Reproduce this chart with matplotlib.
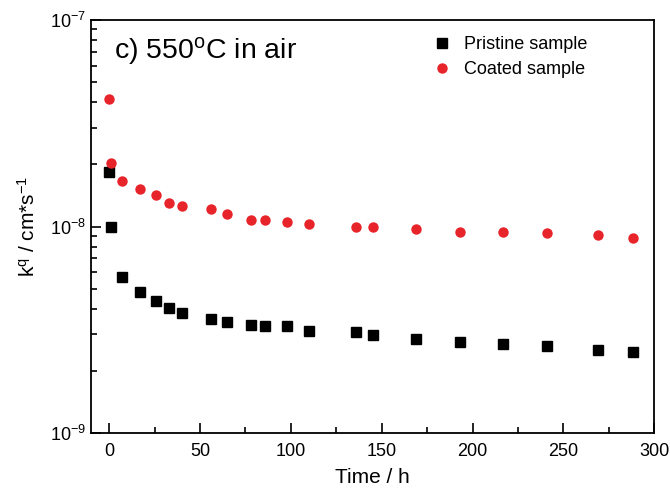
import matplotlib.pyplot as plt
from matplotlib.ticker import LogLocator, MultipleLocator, NullFormatter

plt.rcParams["font.family"] = ["Liberation Sans", "DejaVu Sans"]
plt.rcParams["mathtext.default"] = "regular"

# time in hours
time_h = [0, 1, 7, 17, 26, 33, 40, 56, 65, 78, 86, 98, 110, 136, 145,
          169, 193, 217, 241, 269, 288]
# k^q in cm/s
pristine = [1.84e-8, 1.00e-8, 5.67e-9, 4.82e-9, 4.35e-9, 4.05e-9, 3.81e-9,
            3.58e-9, 3.44e-9, 3.32e-9, 3.29e-9, 3.29e-9, 3.12e-9, 3.09e-9,
            2.99e-9, 2.85e-9, 2.75e-9, 2.70e-9, 2.63e-9, 2.53e-9, 2.47e-9]
coated = [4.14e-8, 2.04e-8, 1.66e-8, 1.52e-8, 1.42e-8, 1.30e-8, 1.26e-8,
          1.21e-8, 1.15e-8, 1.07e-8, 1.07e-8, 1.05e-8, 1.025e-8, 1.00e-8,
          0.99e-8, 0.969e-8, 0.943e-8, 0.943e-8, 0.927e-8, 0.912e-8, 0.877e-8]

fig = plt.figure(figsize=(6.7, 4.93), dpi=100)
ax = fig.add_axes([0.1358, 0.1217, 0.8408, 0.8377])

ax.plot(time_h, pristine, "s", color="black", markersize=6.5,
        linestyle="none", label="Pristine sample")
ax.plot(time_h, coated, "o", color="#e8242b", markersize=7.5,
        markeredgewidth=0, linestyle="none", label="Coated sample")

ax.set_yscale("log")
ax.set_ylim(1e-9, 1e-7)
ax.set_xlim(-10, 300)
ax.xaxis.set_major_locator(MultipleLocator(50))
ax.xaxis.set_minor_locator(MultipleLocator(25))
ax.yaxis.set_major_locator(LogLocator(base=10))
ax.yaxis.set_minor_locator(LogLocator(base=10, subs=range(2, 10)))
ax.yaxis.set_minor_formatter(NullFormatter())

ax.tick_params(which="both", direction="in", top=False, right=False,
               labelsize=13, width=1.2)
ax.tick_params(which="major", length=7)
ax.tick_params(which="minor", length=4)
ax.tick_params(axis="x", pad=7)
for s in ax.spines.values():
    s.set_linewidth(1.3)

ax.set_xlabel("Time / h", fontsize=15, labelpad=6)
ax.set_ylabel("k$^{q}$ / cm*s$^{-1}$", fontsize=15, labelpad=8)

ax.text(0.04, 0.925, "c) 550$^{o}$C in air", transform=ax.transAxes,
        fontsize=20.5, va="center", ha="left")
ax.legend(loc="upper right", bbox_to_anchor=(0.91, 1.0), frameon=False,
          fontsize=13, handletextpad=0.6, labelspacing=0.45,
          handlelength=1.2)

fig.savefig("out.png", dpi=100)
